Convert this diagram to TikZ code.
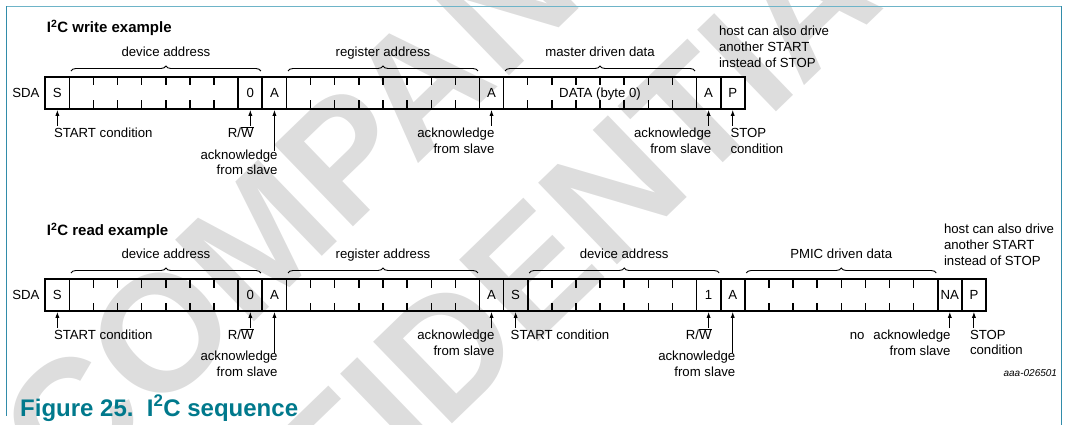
\documentclass[tikz,border=0pt]{standalone}
\usepackage{fontspec}
\setmainfont{Liberation Sans}
\usetikzlibrary{arrows.meta,calc,decorations.pathreplacing}
\definecolor{frameteal}{RGB}{50,140,170}
\definecolor{frametop}{RGB}{110,180,200}
\definecolor{capteal}{RGB}{0,121,140}
\definecolor{wmgray}{RGB}{221,221,221}
\def\xo{45.3}
\def\w{24.12}
\begin{document}
\begin{tikzpicture}[x=1pt,y=-1pt,
  lbl/.style={font=\fontsize{13.2}{15.7}\selectfont, inner sep=0pt, outer sep=0pt},
  cell/.style={draw, line width=1.8pt, minimum height=32pt, minimum width=24.12pt,
    inner sep=0pt, outer sep=0pt, text height=9.45pt, text depth=0pt,
    font=\fontsize{13.2}{15.7}\selectfont},
  tickm/.style={line width=1.4pt},
  brc/.style={decorate, decoration={brace, amplitude=5pt}, line width=0.9pt},
  arr/.style={-{Latex[length=6pt,width=4.2pt]}, line width=0.9pt, shorten >=0.9pt},
  ttl/.style={font=\fontsize{15}{18}\selectfont\bfseries, inner sep=0pt, anchor=base west},
  wm/.style={rotate=44, font=\fontsize{165}{165}\selectfont\bfseries, text=wmgray, inner sep=0pt},
]
\useasboundingbox (0,0) rectangle (1069,425);
\clip (0,0) rectangle (1069,425);

% watermark
\node[wm] (wm1) at (328,172) {COMPANY};
\node[wm] (wm2) at (478,321) {CONFIDENTIAL};

% frame
\draw[frametop, line width=1pt] (6.5,6.5) -- (1061.5,6.5);
\draw[frameteal, line width=1pt] (6.5,6.5) -- (6.5,416);
\draw[frameteal, line width=1pt] (1061.5,6.5) -- (1061.5,425);

% ---------------- write example ----------------
\node[ttl] (tw) at (46.7,32.3) {I\textsuperscript{2}C write example};
\node[lbl, anchor=base east] (sdaw) at (39.5,98) {SDA};

\node[cell] (wS)  at ({\xo+0.5*\w},93) {S};
\node[cell, minimum width={7*\w pt}] (wDA) at ({\xo+4.5*\w},93) {};
\node[cell] (wRW) at ({\xo+8.5*\w},93) {0};
\node[cell] (wA1) at ({\xo+9.5*\w},93) {A};
\node[cell, minimum width={8*\w pt}] (wRA) at ({\xo+14*\w},93) {};
\node[cell] (wA2) at ({\xo+18.5*\w},93) {A};
\node[cell, minimum width={8*\w pt}] (wD) at ({\xo+23*\w},93) {DATA (byte 0)};
\node[cell] (wA3) at ({\xo+27.5*\w},93) {A};
\node[cell] (wP)  at ({\xo+28.5*\w},93) {P};

% ---------------- read example ----------------
\node[ttl] (tr) at (46.7,235.7) {I\textsuperscript{2}C read example};
\node[lbl, anchor=base east] (sdar) at (39.5,299.7) {SDA};

\node[cell] (rS)  at ({\xo+0.5*\w},295) {S};
\node[cell, minimum width={7*\w pt}] (rDA) at ({\xo+4.5*\w},295) {};
\node[cell] (rRW) at ({\xo+8.5*\w},295) {0};
\node[cell] (rA1) at ({\xo+9.5*\w},295) {A};
\node[cell, minimum width={8*\w pt}] (rRA) at ({\xo+14*\w},295) {};
\node[cell] (rA2) at ({\xo+18.5*\w},295) {A};
\node[cell] (rS2) at ({\xo+19.5*\w},295) {S};
\node[cell, minimum width={7*\w pt}] (rDA2) at ({\xo+23.5*\w},295) {};
\node[cell] (rRW2) at ({\xo+27.5*\w},295) {1};
\node[cell] (rA3) at ({\xo+28.5*\w},295) {A};
\node[cell, minimum width={8*\w pt}] (rD) at ({\xo+33*\w},295) {};
\node[cell] (rNA) at ({\xo+37.5*\w},295) {NA};
\node[cell] (rP)  at ({\xo+38.5*\w},295) {P};

% ticks
\foreach \nd/\n in {wDA/6, wRA/7, wD/7, rDA/6, rRA/7, rDA2/6, rD/7}{
  \foreach \k in {1,...,\n}{
    \draw[tickm] ($(\nd.north west)+(\k*\w,0)$) -- ++(0,8.5);
    \draw[tickm] ($(\nd.south west)+(\k*\w,0)$) -- ++(0,-8.5);
  }
}

% braces and their labels
\foreach \a/\b/\t/\nm in {wDA/wRW/device address/bw1, wRA/wRA/register address/bw2, wD/wD/master driven data/bw3,
  rDA/rRW/device address/br1, rRA/rRA/register address/br2, rDA2/rRW2/device address/br3, rD/rD/PMIC driven data/br4}{
  \draw[brc] ($(\a.north west)+(1.5,-6)$) -- ($(\b.north east)+(-1.5,-6)$);
  \node[lbl, anchor=base] (\nm) at ($(\a.north west)!0.5!(\b.north east)+(0,-20.3)$) {\t};
}

% write labels
\node[lbl, anchor=base west] (lwS) at (54,138) {START condition};
\node[lbl, anchor=base east] (lwRW) at (253.5,138) {R/$\overline{\mbox{W}}$};
\node[lbl, anchor=north east, align=right] (lwA1) at (277.6,149.6) {acknowledge\\from slave};
\node[lbl, anchor=north east, align=right] (lwA2) at (494.4,128.1) {acknowledge\\from slave};
\node[lbl, anchor=north east, align=right] (lwA3) at (711.2,128.1) {acknowledge\\from slave};
\node[lbl, anchor=north west, align=left] (lwP) at (730.5,128.1) {STOP\\condition};
\node[lbl, anchor=north west, align=left, font=\fontsize{13.2}{16}\selectfont] (lwH) at (719,25.6) {host can also drive\\another START\\instead of STOP};

\coordinate (cwS)  at ($(wS.south)+(0,17)$);
\coordinate (cwRW) at ($(wRW.south)+(0,17)$);
\coordinate (cwA1) at ($(wA1.south)+(0,42)$);
\coordinate (cwA2) at ($(wA2.south)+(0,17)$);
\coordinate (cwA3) at ($(wA3.south)+(0,17)$);
\coordinate (cwP)  at ($(wP.south)+(0,17)$);
\foreach \c/\n in {cwS/wS, cwRW/wRW, cwA1/wA1, cwA2/wA2, cwA3/wA3, cwP/wP}
  \draw[arr] (\c) -- (\n.south);

% read labels
\node[lbl, anchor=base west] (lrS) at (54,339.7) {START condition};
\node[lbl, anchor=base east] (lrRW) at (253.5,339.7) {R/$\overline{\mbox{W}}$};
\node[lbl, anchor=north east, align=right] (lrA1) at (277.6,351) {acknowledge\\from slave};
\node[lbl, anchor=north east, align=right] (lrA2) at (494.4,329.8) {acknowledge\\from slave};
\node[lbl, anchor=base west] (lrS2) at (510.7,339.7) {START condition};
\node[lbl, anchor=base east] (lrRW2) at (711.6,339.7) {R/$\overline{\mbox{W}}$};
\node[lbl, anchor=north east, align=right] (lrA3) at (735.3,351) {acknowledge\\from slave};
\node[lbl, anchor=north east, align=right] (lrNA) at (950.5,329.8) {no\hspace{9pt}acknowledge\\from slave};
\node[lbl, anchor=north west, align=left] (lrP) at (970,329.8) {STOP\\condition};
\node[lbl, anchor=north west, align=left, font=\fontsize{13.2}{16}\selectfont] (lrH) at (944,224) {host can also drive\\another START\\instead of STOP};

\coordinate (crS)   at ($(rS.south)+(0,17)$);
\coordinate (crRW)  at ($(rRW.south)+(0,17)$);
\coordinate (crA1)  at ($(rA1.south)+(0,42)$);
\coordinate (crA2)  at ($(rA2.south)+(0,17)$);
\coordinate (crS2)  at ($(rS2.south)+(0,17)$);
\coordinate (crRW2) at ($(rRW2.south)+(0,17)$);
\coordinate (crA3)  at ($(rA3.south)+(0,42)$);
\coordinate (crNA)  at ($(rNA.south)+(0,17)$);
\coordinate (crP)   at ($(rP.south)+(0,17)$);
\foreach \c/\n in {crS/rS, crRW/rRW, crA1/rA1, crA2/rA2, crS2/rS2, crRW2/rRW2, crA3/rA3, crNA/rNA, crP/rP}
  \draw[arr] (\c) -- (\n.south);

% figure id and caption
\node[lbl, anchor=base east, font=\fontsize{10}{12}\selectfont\itshape] (fid) at (1057,376) {aaa-026501};
\node[anchor=base west, inner sep=0pt, text=capteal, font=\fontsize{24}{28}\selectfont\bfseries] (cap) at (20,416) {Figure 25.\ \ I\textsuperscript{2}C sequence};
\end{tikzpicture}
\end{document}
